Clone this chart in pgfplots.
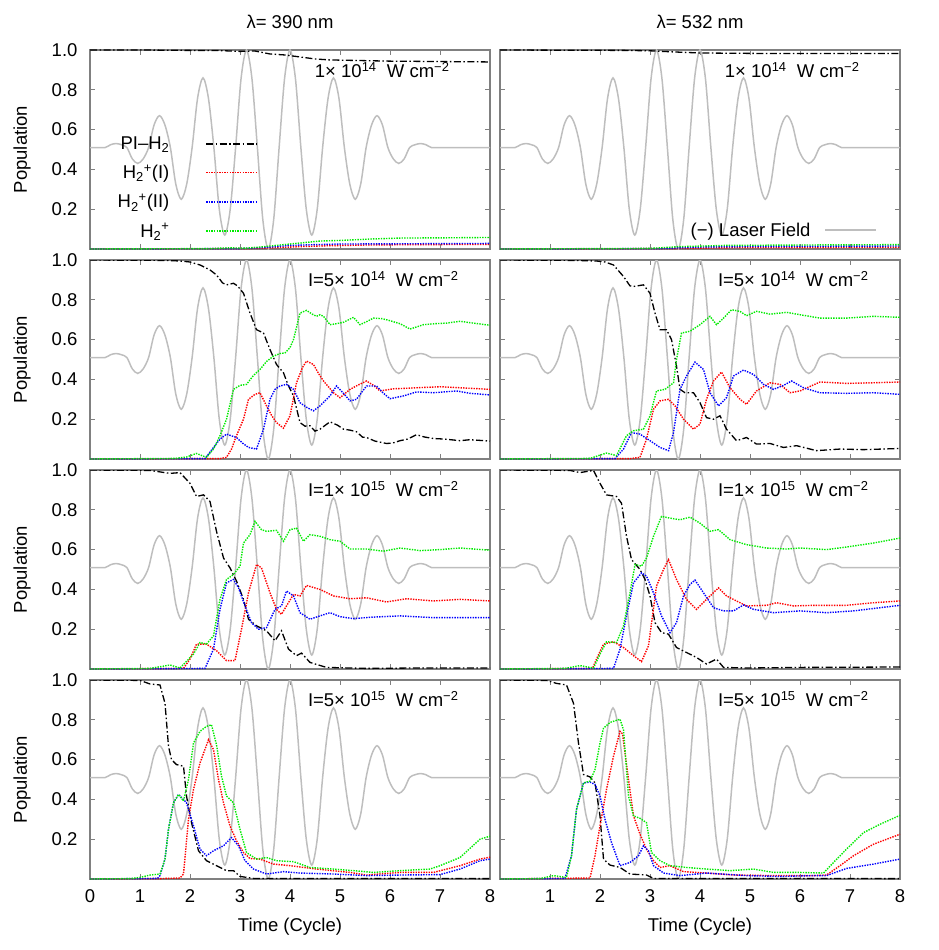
\documentclass[border=0pt]{standalone}
\usepackage{fontspec}
\setmainfont{Liberation Sans}
\usepackage{pgfplots}
\usepackage{pgfplotstable}
\pgfplotsset{compat=1.18}

\definecolor{frame}{RGB}{128,128,128}
\definecolor{lasergray}{RGB}{190,190,190}
\definecolor{pgreen}{RGB}{0,235,0}
\definecolor{pred}{RGB}{255,0,0}
\definecolor{pblue}{RGB}{0,0,255}

\newcommand{\Hp}{H\textsubscript{2}\textsuperscript{+}}
\newcommand{\inten}[2]{#1× 10\textsuperscript{#2}\ \ W cm\textsuperscript{−2}}

% laser field (shifted/scaled), same in all panels
\pgfplotstableread{
t E
0 0.51
0.1 0.51
0.3025 0.51
0.411 0.524
0.52 0.53
0.629 0.524
0.7375 0.51
0.846 0.453
0.955 0.43
1.064 0.453
1.1725 0.51
1.281 0.623
1.39 0.67
1.499 0.623
1.6075 0.51
1.716 0.326
1.825 0.25
1.934 0.326
2.0425 0.51
2.151 0.757
2.26 0.86
2.369 0.757
2.4775 0.51
2.586 0.199
2.695 0.07
2.804 0.199
2.9125 0.51
3.021 0.856
3.13 1.0
3.239 0.856
3.3475 0.51
3.456 0.149
3.565 0.0
3.674 0.149
3.7825 0.51
3.891 0.856
4.0 1.0
4.109 0.856
4.2175 0.51
4.326 0.199
4.435 0.07
4.544 0.199
4.6525 0.51
4.761 0.757
4.87 0.86
4.979 0.757
5.0875 0.51
5.196 0.326
5.305 0.25
5.414 0.326
5.5225 0.51
5.631 0.623
5.74 0.67
5.849 0.623
5.9575 0.51
6.066 0.453
6.175 0.43
6.284 0.453
6.3925 0.51
6.501 0.524
6.61 0.53
6.719 0.524
6.8275 0.51
7.0 0.51
8 0.51
}\laser

\pgfplotsset{
  panel/.style={
    scale only axis, width=400pt, height=199pt,
    xmin=0, xmax=8, ymin=0, ymax=1,
    xtick={0,1,2,3,4,5,6,7,8}, ytick={0.2,0.4,0.6,0.8,1.0},
    tick align=inside, major tick length=5pt,
    axis line style={frame, line width=1.3pt},
    every tick/.style={frame, line width=1pt},
    xticklabels={}, yticklabels={},
    xticklabel shift=7pt, yticklabel shift=9pt,
    every axis title/.style={at={(axis description cs:0.5,1)}, anchor=center, yshift=28pt},
    every axis y label/.style={at={(axis description cs:-0.17,0.5)}, rotate=90, anchor=center},
    every axis x label/.style={at={(axis description cs:0.5,0)}, anchor=center, yshift=-48pt},
    legend image code/.code={\draw[##1] (0pt,0pt) -- (51pt,0pt);},
  },
  leftp/.style={yticklabels={0.2,0.4,0.6,0.8,1.0}, ylabel={Population}},
  laserline/.style={lasergray, line width=1.5pt, smooth},
  pih2/.style={black, line width=1.3pt, dash pattern=on 7pt off 2.5pt on 1.5pt off 2.5pt},
  popone/.style={pred, line width=1.4pt, dash pattern=on 1.4pt off 1.2pt},
  poptwo/.style={pblue, line width=1.4pt, dash pattern=on 1.4pt off 1.2pt},
  popsum/.style={pgreen, line width=1.4pt, dash pattern=on 1.4pt off 1.2pt},
}

\begin{document}
\begin{tikzpicture}[font=\fontsize{18.5}{22}\selectfont]
\path[use as bounding box] (0pt,0pt) rectangle (939pt,-950pt);

% ---------- row 1, 390 nm ----------
\begin{axis}[panel, leftp, at={(90pt,-50pt)}, anchor=north west,
  title={λ= 390 nm},
  legend style={draw=none, fill=none, at={(axis description cs:0.42,0.575)}, anchor=north east,
    inner sep=0pt, /tikz/column sep=34pt, /tikz/row sep=10pt},
  legend cell align=right, legend plot pos=right]
\addplot[laserline, forget plot] table {\laser};
\addplot[pih2] coordinates {(0,1)(1,1)(2,0.998)(2.6,0.997)(3.0,0.993)(3.3,0.995)(3.6,0.98)(3.9,0.975)(4.2,0.965)(4.5,0.955)(4.8,0.95)(5.2,0.948)(6,0.944)(7,0.942)(8,0.94)};
\addlegendentry{PI–H\textsubscript{2}}
\addplot[popone] coordinates {(0,0)(3.2,0.002)(3.7,0.006)(4.2,0.012)(4.7,0.016)(5.5,0.02)(6.5,0.022)(8,0.023)};
\addlegendentry{\Hp(I)}
\addplot[poptwo] coordinates {(0,0)(3.0,0.002)(3.5,0.008)(4.0,0.018)(4.5,0.022)(5,0.025)(6,0.026)(7,0.027)(8,0.028)};
\addlegendentry{\Hp(II)}
\addplot[popsum] coordinates {(0,0)(2.4,0.002)(2.8,0.006)(3.1,0.004)(3.4,0.01)(3.8,0.02)(4.2,0.03)(4.6,0.04)(5.0,0.043)(5.6,0.05)(6.2,0.055)(7,0.056)(8,0.058)};
\addlegendentry{\Hp}
\node[anchor=base east] at (axis cs:7.26,0.86) {\inten{1}{14}};
\end{axis}

% ---------- row 1, 532 nm ----------
\begin{axis}[panel, at={(500pt,-50pt)}, anchor=north west,
  title={λ= 532 nm},
  legend style={draw=none, fill=none, at={(axis description cs:0.943,0.095)}, anchor=east,
    inner sep=0pt, /tikz/column sep=12pt},
  legend cell align=right, legend plot pos=right]
\addplot[laserline] table {\laser};
\addlegendentry{(−) Laser Field}
\addplot[pih2, forget plot] coordinates {(0,1)(2.5,0.998)(3.0,0.996)(3.5,0.99)(4,0.985)(5,0.983)(6,0.982)(8,0.982)};
\addplot[popone, forget plot] coordinates {(0,0)(3.5,0.002)(4.5,0.006)(8,0.008)};
\addplot[poptwo, forget plot] coordinates {(0,0)(3.2,0.002)(4,0.01)(5,0.013)(8,0.015)};
\addplot[popsum, forget plot] coordinates {(0,0)(3,0.003)(3.6,0.012)(4.5,0.018)(6,0.02)(8,0.022)};
\node[anchor=base east] at (axis cs:7.26,0.86) {\inten{1}{14}};
\end{axis}

% ---------- row 2, 390 nm ----------
\begin{axis}[panel, leftp, at={(90pt,-260pt)}, anchor=north west]
\addplot[laserline] table {\laser};
\addplot[pih2] coordinates {(0,1)(1.5,0.998)(1.8,0.995)(2.0,0.99)(2.2,0.975)(2.4,0.95)(2.53,0.925)(2.65,0.885)(2.73,0.875)(2.87,0.883)(2.95,0.87)(3.07,0.833)(3.2,0.733)(3.33,0.65)(3.47,0.633)(3.6,0.55)(3.73,0.475)(3.87,0.433)(3.97,0.367)(4.07,0.317)(4.2,0.183)(4.3,0.165)(4.4,0.167)(4.5,0.14)(4.6,0.15)(4.8,0.187)(4.95,0.17)(5.07,0.15)(5.2,0.145)(5.33,0.137)(5.45,0.11)(5.53,0.108)(5.7,0.09)(5.93,0.078)(6.05,0.08)(6.2,0.092)(6.35,0.1)(6.53,0.122)(6.7,0.11)(6.87,0.103)(7.1,0.1)(7.4,0.092)(7.6,0.097)(8,0.09)};
\addplot[popone] coordinates {(0,0)(2.6,0.002)(2.73,0.008)(2.83,0.05)(2.93,0.117)(3.07,0.2)(3.17,0.3)(3.3,0.325)(3.4,0.333)(3.53,0.267)(3.63,0.22)(3.73,0.183)(3.87,0.155)(4.0,0.217)(4.13,0.383)(4.25,0.46)(4.33,0.492)(4.47,0.475)(4.57,0.43)(4.67,0.392)(4.87,0.333)(5.0,0.308)(5.2,0.35)(5.35,0.37)(5.53,0.392)(5.67,0.37)(5.8,0.342)(6.07,0.353)(6.3,0.355)(6.53,0.358)(7.0,0.363)(7.4,0.358)(8,0.35)};
\addplot[poptwo] coordinates {(0,0)(2.3,0.002)(2.47,0.058)(2.6,0.1)(2.73,0.125)(2.93,0.108)(3.05,0.08)(3.17,0.058)(3.33,0.05)(3.47,0.15)(3.6,0.3)(3.7,0.35)(3.8,0.367)(3.93,0.375)(4.07,0.35)(4.2,0.283)(4.33,0.26)(4.47,0.242)(4.6,0.267)(4.8,0.317)(4.93,0.367)(5.07,0.33)(5.2,0.292)(5.33,0.3)(5.53,0.367)(5.73,0.367)(5.87,0.33)(6.0,0.303)(6.27,0.317)(6.53,0.337)(6.87,0.333)(7.33,0.342)(7.6,0.33)(8,0.322)};
\addplot[popsum] coordinates {(0,0)(1.7,0.003)(1.93,0.01)(2.13,0.028)(2.33,0.008)(2.47,0.05)(2.6,0.117)(2.73,0.2)(2.87,0.35)(3.0,0.37)(3.13,0.375)(3.27,0.42)(3.4,0.45)(3.53,0.49)(3.67,0.517)(3.8,0.53)(3.9,0.533)(4.0,0.56)(4.07,0.6)(4.2,0.733)(4.33,0.747)(4.43,0.73)(4.53,0.717)(4.6,0.725)(4.67,0.717)(4.8,0.675)(4.93,0.68)(5.07,0.687)(5.27,0.712)(5.4,0.675)(5.53,0.69)(5.67,0.708)(5.85,0.705)(6.0,0.695)(6.2,0.68)(6.4,0.653)(6.55,0.665)(6.67,0.675)(6.9,0.68)(7.13,0.683)(7.4,0.692)(7.6,0.685)(8,0.672)};
\node[anchor=base east] at (axis cs:7.44,0.865) {I=\inten{5}{14}};
\end{axis}

% ---------- row 2, 532 nm ----------
\begin{axis}[panel, at={(500pt,-260pt)}, anchor=north west]
\addplot[laserline] table {\laser};
\addplot[pih2] coordinates {(0,1)(1.5,0.998)(1.93,0.995)(2.1,0.99)(2.27,0.975)(2.47,0.917)(2.6,0.87)(2.67,0.867)(2.87,0.875)(3.0,0.833)(3.1,0.733)(3.2,0.65)(3.33,0.65)(3.43,0.6)(3.53,0.467)(3.6,0.35)(3.7,0.333)(3.87,0.333)(4.0,0.283)(4.13,0.208)(4.27,0.2)(4.4,0.217)(4.53,0.15)(4.73,0.092)(4.93,0.108)(5.13,0.075)(5.4,0.078)(5.67,0.058)(5.93,0.067)(6.33,0.042)(6.8,0.05)(7.27,0.047)(8,0.053)};
\addplot[popone] coordinates {(0,0)(2.6,0.002)(2.8,0.008)(2.93,0.1)(3.07,0.25)(3.2,0.292)(3.37,0.3)(3.5,0.267)(3.67,0.2)(3.87,0.15)(4.0,0.175)(4.13,0.3)(4.27,0.392)(4.43,0.437)(4.6,0.358)(4.8,0.3)(4.93,0.275)(5.13,0.342)(5.4,0.383)(5.6,0.375)(5.8,0.333)(6.0,0.342)(6.4,0.387)(6.93,0.38)(7.47,0.383)(8,0.387)};
\addplot[poptwo] coordinates {(0,0)(2.3,0.002)(2.47,0.05)(2.63,0.133)(2.8,0.125)(3.0,0.092)(3.2,0.058)(3.37,0.042)(3.47,0.133)(3.6,0.35)(3.73,0.417)(3.9,0.487)(4.07,0.45)(4.2,0.333)(4.37,0.267)(4.53,0.308)(4.67,0.417)(4.87,0.447)(5.07,0.425)(5.27,0.375)(5.47,0.35)(5.67,0.37)(5.83,0.392)(6.07,0.358)(6.4,0.333)(6.93,0.33)(7.47,0.333)(8,0.325)};
\addplot[popsum] coordinates {(0,0)(1.8,0.003)(2.13,0.03)(2.33,0.017)(2.53,0.117)(2.67,0.142)(2.87,0.15)(3.0,0.217)(3.13,0.342)(3.3,0.35)(3.47,0.383)(3.53,0.5)(3.63,0.633)(3.8,0.642)(4.0,0.675)(4.2,0.717)(4.33,0.675)(4.47,0.708)(4.63,0.75)(4.8,0.742)(4.93,0.72)(5.13,0.742)(5.4,0.728)(5.73,0.737)(6.0,0.725)(6.4,0.708)(6.93,0.708)(7.47,0.717)(8,0.712)};
\node[anchor=base east] at (axis cs:7.44,0.865) {I=\inten{5}{14}};
\end{axis}

% ---------- row 3, 390 nm ----------
\begin{axis}[panel, leftp, at={(90pt,-470pt)}, anchor=north west]
\addplot[laserline] table {\laser};
\addplot[pih2] coordinates {(0,1)(1.2,0.998)(1.6,0.983)(1.8,0.987)(2.0,0.933)(2.13,0.867)(2.27,0.875)(2.4,0.842)(2.53,0.692)(2.67,0.558)(2.8,0.508)(2.93,0.442)(3.07,0.35)(3.17,0.25)(3.33,0.217)(3.53,0.192)(3.7,0.142)(3.83,0.192)(3.97,0.1)(4.13,0.067)(4.23,0.08)(4.4,0.033)(4.73,0.008)(5.53,0.003)(6.5,0.005)(8,0.005)};
\addplot[popone] coordinates {(0,0)(1.87,0.003)(2.0,0.05)(2.13,0.125)(2.33,0.125)(2.53,0.092)(2.73,0.042)(2.9,0.042)(3.03,0.2)(3.17,0.383)(3.33,0.525)(3.43,0.508)(3.6,0.383)(3.73,0.3)(3.83,0.275)(3.93,0.317)(4.07,0.375)(4.2,0.367)(4.33,0.42)(4.6,0.4)(4.87,0.367)(5.2,0.353)(5.53,0.358)(5.93,0.337)(6.33,0.353)(6.87,0.342)(7.4,0.35)(8,0.342)};
\addplot[poptwo] coordinates {(0,0)(2.3,0.003)(2.47,0.1)(2.6,0.3)(2.73,0.433)(2.87,0.45)(2.97,0.408)(3.1,0.317)(3.23,0.233)(3.37,0.2)(3.53,0.208)(3.7,0.3)(3.83,0.317)(3.93,0.392)(4.07,0.367)(4.2,0.283)(4.4,0.25)(4.6,0.267)(4.8,0.283)(5.0,0.263)(5.27,0.253)(5.6,0.26)(6.2,0.267)(6.87,0.258)(8,0.258)};
\addplot[popsum] coordinates {(0,0)(1.2,0.003)(1.6,0.02)(1.8,0.005)(2.07,0.075)(2.2,0.133)(2.33,0.125)(2.47,0.167)(2.6,0.35)(2.73,0.45)(2.87,0.475)(3.0,0.517)(3.07,0.633)(3.2,0.675)(3.3,0.742)(3.43,0.7)(3.53,0.692)(3.73,0.697)(3.87,0.642)(4.0,0.7)(4.13,0.708)(4.27,0.642)(4.4,0.675)(4.6,0.667)(4.8,0.65)(5.0,0.642)(5.2,0.603)(5.53,0.603)(5.87,0.592)(6.2,0.608)(6.6,0.595)(7.0,0.6)(7.4,0.608)(8,0.597)};
\node[anchor=base east] at (axis cs:7.44,0.865) {I=\inten{1}{15}};
\end{axis}

% ---------- row 3, 532 nm ----------
\begin{axis}[panel, at={(500pt,-470pt)}, anchor=north west]
\addplot[laserline] table {\laser};
\addplot[pih2] coordinates {(0,1)(1.4,0.998)(1.6,0.987)(1.87,0.998)(2.0,0.933)(2.13,0.875)(2.33,0.867)(2.43,0.833)(2.53,0.667)(2.63,0.55)(2.8,0.5)(2.9,0.45)(3.0,0.367)(3.1,0.233)(3.23,0.183)(3.37,0.175)(3.53,0.108)(3.73,0.083)(3.93,0.058)(4.13,0.025)(4.33,0.05)(4.47,0.008)(4.93,0.005)(6,0.008)(8,0.01)};
\addplot[popone] coordinates {(0,0)(1.85,0.003)(1.93,0.05)(2.07,0.125)(2.27,0.137)(2.47,0.108)(2.67,0.067)(2.83,0.037)(2.97,0.117)(3.13,0.417)(3.27,0.5)(3.37,0.55)(3.53,0.45)(3.73,0.35)(3.93,0.3)(4.13,0.35)(4.37,0.408)(4.53,0.367)(4.73,0.342)(4.93,0.317)(5.33,0.32)(5.53,0.333)(5.87,0.317)(6.27,0.32)(6.93,0.32)(7.47,0.333)(8,0.342)};
\addplot[poptwo] coordinates {(0,0)(2.27,0.003)(2.4,0.1)(2.53,0.267)(2.67,0.433)(2.83,0.483)(2.93,0.467)(3.07,0.383)(3.23,0.267)(3.4,0.183)(3.53,0.233)(3.67,0.367)(3.8,0.425)(3.9,0.447)(4.07,0.383)(4.27,0.308)(4.47,0.292)(4.67,0.292)(4.87,0.322)(5.07,0.3)(5.47,0.283)(6.0,0.292)(6.53,0.283)(7.07,0.292)(7.6,0.308)(8,0.32)};
\addplot[popsum] coordinates {(0,0)(1.3,0.003)(1.6,0.017)(1.87,0.005)(2.0,0.075)(2.13,0.137)(2.33,0.133)(2.47,0.217)(2.6,0.383)(2.7,0.525)(2.83,0.517)(2.93,0.558)(3.07,0.667)(3.23,0.767)(3.4,0.758)(3.6,0.75)(3.8,0.763)(4.0,0.733)(4.2,0.692)(4.37,0.7)(4.6,0.65)(4.93,0.625)(5.33,0.608)(5.73,0.603)(6.0,0.608)(6.53,0.6)(6.93,0.613)(7.47,0.633)(8,0.658)};
\node[anchor=base east] at (axis cs:7.44,0.865) {I=\inten{1}{15}};
\end{axis}

% ---------- row 4, 390 nm ----------
\begin{axis}[panel, leftp, at={(90pt,-680pt)}, anchor=north west,
  xticklabels={0,1,2,3,4,5,6,7,8}, xlabel={Time (Cycle)}]
\addplot[laserline] table {\laser};
\addplot[pih2] coordinates {(0,1)(1.0,0.998)(1.2,0.98)(1.4,0.975)(1.5,0.883)(1.57,0.667)(1.63,0.6)(1.73,0.575)(1.87,0.567)(1.93,0.417)(2.03,0.283)(2.17,0.142)(2.33,0.092)(2.53,0.067)(2.73,0.042)(2.87,0.042)(3.0,0.013)(3.27,0.003)(8,0.002)};
\addplot[popone] coordinates {(0,0)(1.4,0.002)(1.8,0.005)(1.87,0.025)(1.97,0.3)(2.07,0.45)(2.2,0.583)(2.37,0.7)(2.47,0.65)(2.57,0.5)(2.67,0.383)(2.8,0.267)(2.93,0.192)(3.07,0.133)(3.2,0.103)(3.4,0.1)(3.67,0.075)(4.0,0.067)(4.53,0.05)(5.2,0.033)(5.53,0.02)(6.2,0.033)(6.87,0.033)(7.4,0.067)(7.8,0.1)(8,0.11)};
\addplot[poptwo] coordinates {(0,0)(1.35,0.003)(1.4,0.017)(1.5,0.1)(1.57,0.25)(1.67,0.383)(1.77,0.425)(1.93,0.383)(2.07,0.267)(2.2,0.15)(2.33,0.117)(2.47,0.142)(2.67,0.167)(2.83,0.208)(2.97,0.167)(3.1,0.092)(3.27,0.05)(3.53,0.025)(3.87,0.037)(4.2,0.03)(4.87,0.025)(5.53,0.017)(6.2,0.02)(7.0,0.022)(7.4,0.05)(7.8,0.092)(8,0.1)};
\addplot[popsum] coordinates {(0,0)(0.8,0.002)(1.0,0.008)(1.2,0.02)(1.4,0.025)(1.5,0.1)(1.57,0.25)(1.67,0.383)(1.77,0.425)(1.87,0.392)(1.97,0.5)(2.07,0.683)(2.2,0.742)(2.33,0.767)(2.43,0.775)(2.53,0.675)(2.63,0.517)(2.73,0.417)(2.87,0.383)(3.0,0.25)(3.13,0.133)(3.33,0.1)(3.53,0.108)(3.73,0.092)(4.07,0.087)(4.4,0.058)(4.87,0.05)(5.27,0.042)(5.67,0.033)(6.2,0.042)(6.8,0.05)(7.0,0.067)(7.4,0.108)(7.8,0.2)(8,0.215)};
\node[anchor=base east] at (axis cs:7.44,0.865) {I=\inten{5}{15}};
\end{axis}

% ---------- row 4, 532 nm ----------
\begin{axis}[panel, at={(500pt,-680pt)}, anchor=north west,
  xticklabels={{},1,2,3,4,5,6,7,8}, xlabel={Time (Cycle)}]
\addplot[laserline] table {\laser};
\addplot[pih2] coordinates {(0,1)(0.93,0.998)(1.13,0.983)(1.33,0.975)(1.47,0.883)(1.57,0.683)(1.67,0.525)(1.8,0.513)(1.9,0.483)(2.0,0.317)(2.07,0.1)(2.2,0.07)(2.4,0.058)(2.6,0.025)(2.93,0.02)(3.07,0.003)(8,0.002)};
\addplot[popone] coordinates {(0,0)(1.8,0.005)(1.9,0.117)(2.0,0.267)(2.13,0.45)(2.27,0.617)(2.4,0.742)(2.45,0.73)(2.57,0.5)(2.67,0.317)(2.8,0.225)(2.93,0.15)(3.07,0.092)(3.2,0.058)(3.4,0.067)(3.67,0.037)(4.13,0.03)(4.67,0.02)(5.47,0.017)(6.27,0.017)(6.53,0.02)(6.8,0.067)(7.07,0.117)(7.47,0.175)(8,0.225)};
\addplot[poptwo] coordinates {(0,0)(1.3,0.003)(1.43,0.117)(1.53,0.35)(1.67,0.483)(1.8,0.487)(1.9,0.475)(2.0,0.417)(2.1,0.3)(2.23,0.183)(2.4,0.067)(2.6,0.083)(2.77,0.117)(2.87,0.167)(2.97,0.142)(3.07,0.067)(3.27,0.03)(3.6,0.017)(4.13,0.03)(4.93,0.017)(5.6,0.013)(6.27,0.017)(6.53,0.017)(6.93,0.053)(7.47,0.075)(8,0.1)};
\addplot[popsum] coordinates {(0,0)(0.8,0.002)(1.07,0.017)(1.33,0.008)(1.43,0.117)(1.53,0.35)(1.67,0.483)(1.8,0.492)(1.9,0.55)(2.0,0.683)(2.07,0.758)(2.2,0.787)(2.4,0.803)(2.47,0.75)(2.57,0.417)(2.67,0.317)(2.8,0.305)(2.93,0.283)(3.03,0.133)(3.2,0.092)(3.4,0.067)(3.73,0.058)(4.13,0.05)(4.6,0.042)(5.07,0.05)(5.47,0.033)(6.0,0.033)(6.47,0.03)(6.67,0.083)(6.93,0.15)(7.27,0.233)(7.6,0.275)(8,0.32)};
\node[anchor=base east] at (axis cs:7.44,0.865) {I=\inten{5}{15}};
\end{axis}
\end{tikzpicture}
\end{document}
